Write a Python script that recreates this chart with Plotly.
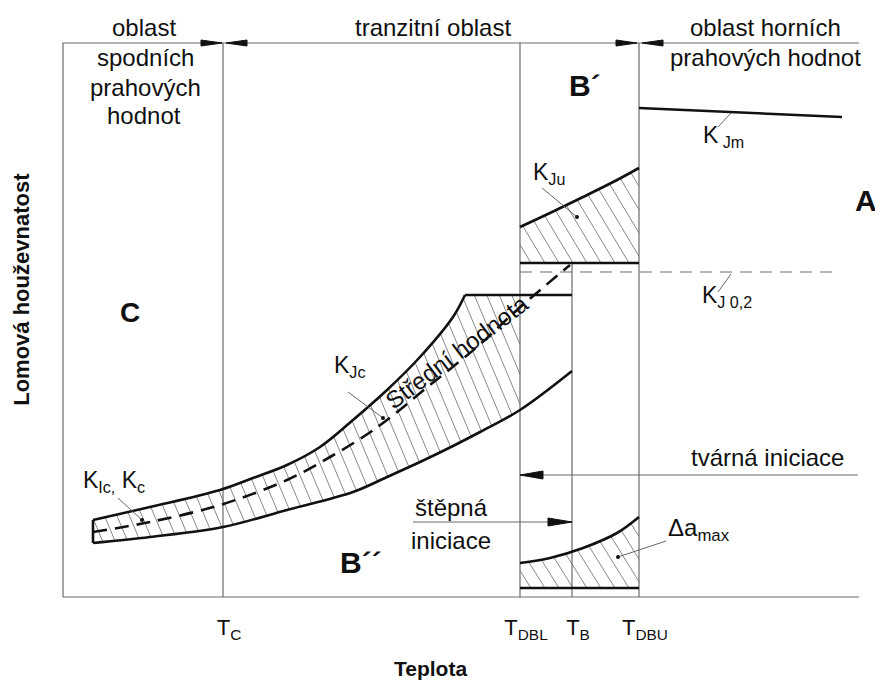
import numpy as np
import plotly.graph_objects as go

# schematic units: temperature to the right, toughness upwards
T_LABELS = ["T<sub>C</sub>", "T<sub>DBL</sub>", "T<sub>B</sub>", "T<sub>DBU</sub>"]
T_VALUES = [160, 457, 509, 576]
T_C, T_DBL, T_B, T_DBU = T_VALUES
T_END = 796
K_TOP = 554

# K_Jc scatter band (lower shelf -> transition)
kjc_upper_t = [30, 87, 157, 190, 224, 257, 290, 324, 357, 390, 402]
kjc_upper_k = [77, 90, 107, 119, 132, 150, 177, 207, 240, 280, 302]
kjc_shelf_t = [402, 509]
kjc_shelf_k = [302, 302]
kjc_lower_t = [30, 87, 160, 224, 290, 324, 357, 390, 417, 457, 509]
kjc_lower_k = [54, 60, 70, 87, 105, 120, 135, 151, 165, 187, 226]
mean_t = [30, 87, 157, 224, 267, 300, 324, 367, 414, 454, 507]
mean_k = [65, 75, 92, 117, 140, 160, 177, 212, 250, 287, 332]

# K_Ju band
kju_t = [457, 487, 520, 554, 576]
kju_k = [370, 384, 400, 417, 429]
kju_base = 334

# delta a_max band
da_t = [457, 487, 520, 554, 576]
da_k = [34, 39, 49, 64, 80]
da_base = 9

# upper shelf and K_J0.2
kjm_t = [576, 779]
kjm_k = [489, 480]
kj02_t = [457, 769]
kj02_k = [325, 325]

DUCTILE_K = 122
CLEAVAGE_K = 75

FONT = "Liberation Sans, Arial, sans-serif"
THICK = dict(color="#111111", width=2.6)
THIN = dict(color="#6a6a6a", width=1.2)
HATCH = dict(color="#7a7a7a", width=0.9)


def hatch(top_t, top_k, bot_t, bot_k, t0, t1, step, lean):
    xs, ys = [], []
    kmin, kmax = min(bot_k) - 5, max(top_k) + 5
    kk = np.linspace(kmin, kmax, 1500)
    c = t0 + lean * kmin
    while c < t1 + lean * kmax:
        tt = c - lean * kk
        inside = (tt >= t0) & (tt <= t1)
        inside &= kk <= np.interp(tt, top_t, top_k)
        inside &= kk >= np.interp(tt, bot_t, bot_k)
        if inside.sum() > 1:
            idx = np.where(inside)[0]
            xs += [tt[idx[0]], tt[idx[-1]], None]
            ys += [kk[idx[0]], kk[idx[-1]], None]
        c += step
    return xs, ys


def heads(specs):
    xs, ys = [], []
    for tx, ty, d, ln, hw in specs:
        xs += [tx, tx - d * ln, tx - d * ln, tx, None]
        ys += [ty, ty + hw, ty - hw, ty, None]
    return xs, ys


def line(fig, t, k, style, dash=None, shape="linear"):
    st = dict(style, shape=shape)
    if dash:
        st["dash"] = dash
    fig.add_trace(go.Scatter(x=t, y=k, mode="lines", line=st,
                             hoverinfo="skip", showlegend=False))


fig = go.Figure()

# hatching
hx, hy = hatch(kjc_upper_t + kjc_shelf_t[1:], kjc_upper_k + kjc_shelf_k[1:],
               kjc_lower_t, kjc_lower_k, 30, T_DBL, 12.5, 0.42)
line(fig, hx, hy, HATCH)
hx, hy = hatch(kju_t, kju_k, kju_t, [kju_base] * len(kju_t), T_DBL, T_DBU, 14, 0.6)
line(fig, hx, hy, HATCH)
hx, hy = hatch(da_t, da_k, da_t, [da_base] * len(da_t), T_DBL, T_DBU, 14, 0.62)
line(fig, hx, hy, HATCH)

# frame and temperature marks
line(fig, [0, 0, T_END], [0, K_TOP, K_TOP], THIN)
line(fig, [0, T_END], [0, 0], THIN)
for tv in [T_C, T_DBL, T_DBU]:
    line(fig, [tv, tv], [0, K_TOP], THIN)
line(fig, [T_B, T_B], [0, kju_base], THIN)
line(fig, [T_DBL, T_END - 1], [DUCTILE_K, DUCTILE_K], THIN)
line(fig, [350, T_B], [CLEAVAGE_K, CLEAVAGE_K], THIN)
line(fig, kj02_t, kj02_k, THIN, dash="12px,8px")

# curves
line(fig, kjc_upper_t, kjc_upper_k, THICK, shape="spline")
line(fig, kjc_shelf_t, kjc_shelf_k, THICK)
line(fig, kjc_lower_t, kjc_lower_k, THICK, shape="spline")
line(fig, [30, 30], [kjc_lower_k[0], kjc_upper_k[0]], THICK)
line(fig, mean_t, mean_k, THICK, dash="14px,8px", shape="spline")
line(fig, kju_t, kju_k, THICK, shape="spline")
line(fig, [T_DBL, T_DBU], [kju_base, kju_base], THICK)
line(fig, da_t, da_k, THICK, shape="spline")
line(fig, [T_DBL, T_DBU], [da_base, da_base], THICK)
line(fig, kjm_t, kjm_k, THICK)

# arrow heads
ax_, ay_ = heads([
    (T_C - 1, K_TOP, 1, 21, 3), (T_C + 3, K_TOP, -1, 21, 3),
    (T_DBU - 2, K_TOP, 1, 21, 3), (T_DBU + 3, K_TOP, -1, 21, 3),
    (T_DBL, DUCTILE_K, -1, 23, 4), (T_B, CLEAVAGE_K, 1, 24, 4),
])
fig.add_trace(go.Scatter(x=ax_, y=ay_, mode="lines", fill="toself",
                         fillcolor="#111111", line=dict(color="#111111", width=1),
                         hoverinfo="skip", showlegend=False))

# leader lines
leaders = [((655, 668), (470, 484), False), ((655, 668), (305, 323), False),
           ((479, 514), (409, 380), True), ((285, 320), (205, 179), True),
           ((55, 79), (99, 77), True), ((603, 555), (56, 40), True)]
for (lt, lk, dot) in leaders:
    line(fig, list(lt), list(lk), dict(color="#555555", width=0.9))
    if dot:
        fig.add_trace(go.Scatter(x=[lt[1]], y=[lk[1]], mode="markers",
                                 marker=dict(color="#111111", size=4),
                                 hoverinfo="skip", showlegend=False))

texts = [
    ("oblast", 81, 570, 24, False, 0), ("spodních", 82, 540, 24, False, 0),
    ("prahových", 82, 510, 24, False, 0), ("hodnot", 81, 482, 24, False, 0),
    ("tranzitní oblast", 370, 570, 24, False, 0),
    ("oblast horních", 702, 570, 24, False, 0),
    ("prahových hodnot", 702, 540, 24, False, 0),
    ("B´", 522, 512, 30, True, 0), ("A", 803, 397, 30, True, 0),
    ("C", 67, 285, 28, True, 0), ("B´´", 298, 35, 30, True, 0),
    ("K<sub> Jm</sub>", 660, 461, 23, False, 0),
    ("K<sub>J 0,2</sub>", 664, 301, 23, False, 0),
    ("K<sub>Ju</sub>", 486, 424, 23, False, 0),
    ("K<sub>Jc</sub>", 286, 231, 23, False, 0),
    ("K<sub>Ic,</sub> K<sub>c</sub>", 51, 116, 23, False, 0),
    ("Δa<sub>max</sub>", 636, 68, 24, False, 0),
    ("tvárná iniciace", 704, 140, 24, False, 0),
    ("štěpná", 388, 90, 24, False, 0), ("iniciace", 388, 57, 24, False, 0),
    ("Střední hodnota", 393, 245, 24, False, -37),
]
for txt, tx, ty, size, bold, ang in texts:
    fig.add_annotation(x=tx, y=ty, text=f"<b>{txt}</b>" if bold else txt,
                       showarrow=False, textangle=ang,
                       font=dict(family=FONT, size=size, color="#111111"))

fig.add_annotation(xref="paper", yref="paper", x=-0.047, y=0.532,
                   xanchor="center", yanchor="middle",
                   text="<b>Lomová houževnatost</b>", textangle=-90, showarrow=False,
                   font=dict(family=FONT, size=22, color="#111111"))
fig.add_annotation(xref="paper", yref="paper", x=0.4446, y=-0.1,
                   xanchor="center", yanchor="middle",
                   text="<b>Teplota</b>", showarrow=False,
                   font=dict(family=FONT, size=21, color="#111111"))

fig.update_xaxes(range=[-2, 828], showgrid=False, zeroline=False, showline=False,
                 ticks="", tickvals=T_VALUES, ticktext=T_LABELS,
                 tickfont=dict(family=FONT, size=22, color="#111111"),
                 ticklabelstandoff=4, ticklabelshift=6)
fig.update_yaxes(range=[-11, 589], visible=False)
fig.update_layout(width=883, height=686, margin=dict(l=53, r=0, t=0, b=86),
                  plot_bgcolor="white", paper_bgcolor="white")

fig.write_html("out.html")
